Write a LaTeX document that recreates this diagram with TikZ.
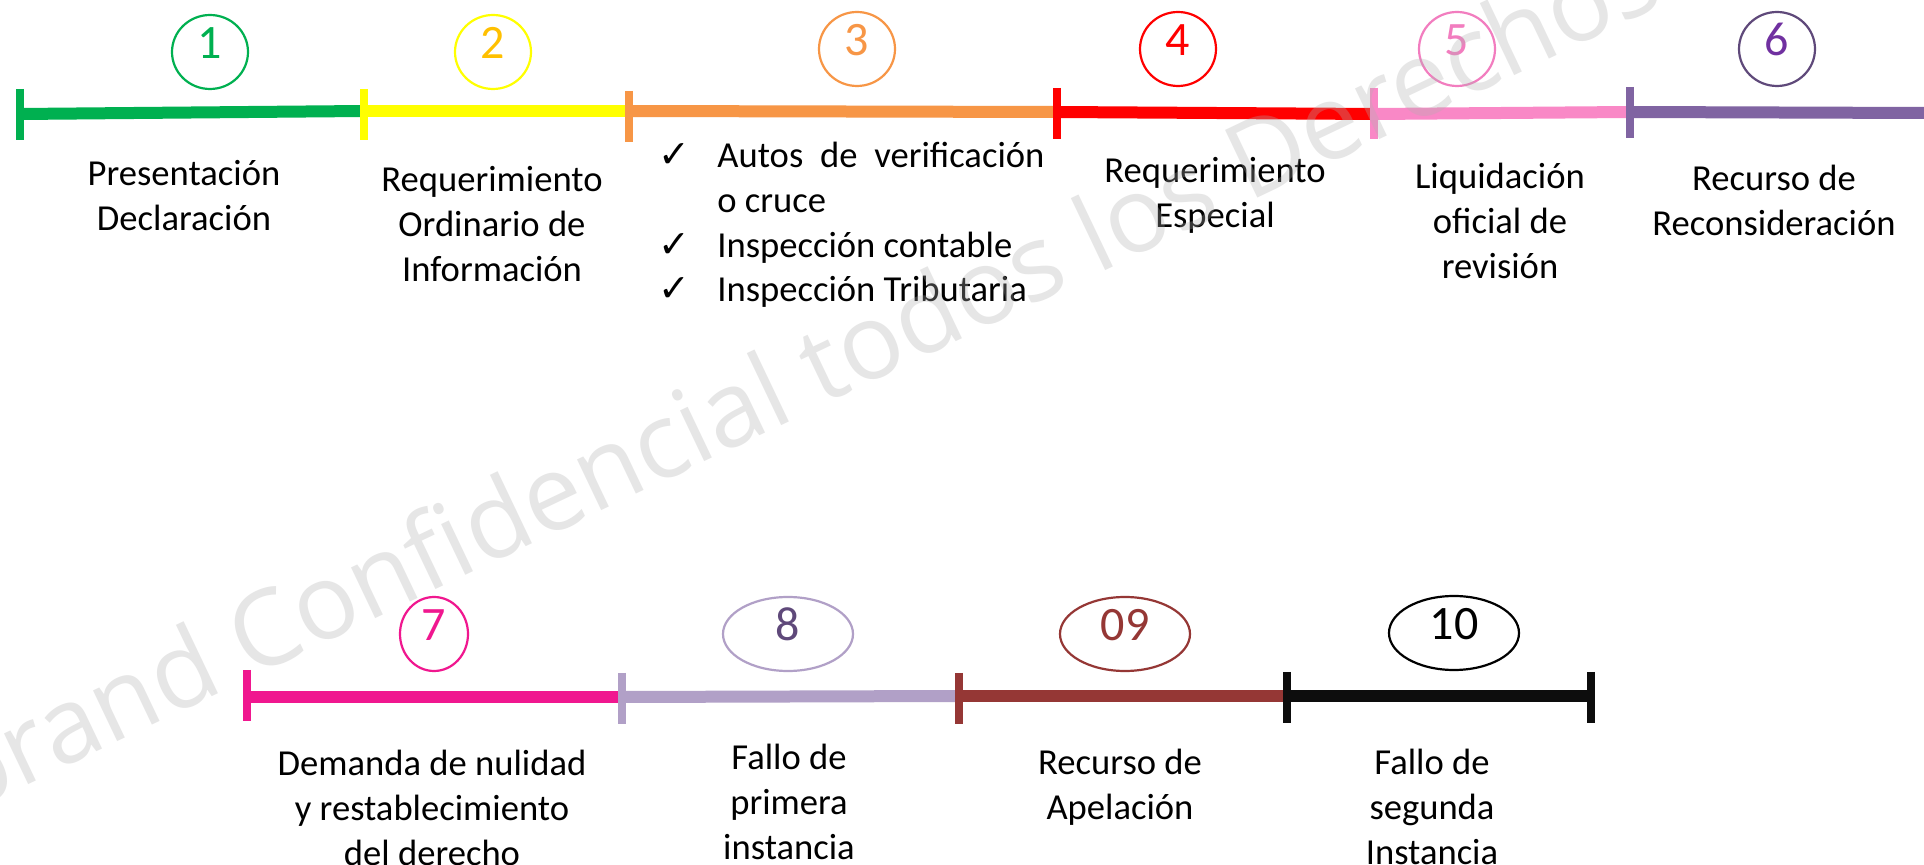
\documentclass[tikz,border=0pt]{standalone}
\usepackage{fontspec}
\usetikzlibrary{shapes.geometric}
\setmainfont{Carlito}
\newfontfamily\wmfont{Open Sans}
\newfontfamily\symfont{DejaVu Sans}
\definecolor{cgreen}{HTML}{00B050}
\definecolor{cyellow}{HTML}{FFFF00}
\definecolor{cgold}{HTML}{FFC000}
\definecolor{corange}{HTML}{F79646}
\definecolor{cred}{HTML}{FF0000}
\definecolor{cpink}{HTML}{F988C6}
\definecolor{cpinkd}{HTML}{F27DBF}
\definecolor{cpurple}{HTML}{8064A2}
\definecolor{cpurpled}{HTML}{5F497A}
\definecolor{cviolet}{HTML}{7030A0}
\definecolor{cmagenta}{HTML}{F0178F}
\definecolor{clav}{HTML}{B1A0C7}
\definecolor{cbrown}{HTML}{953735}
\definecolor{cblack}{HTML}{0D0D0D}
\definecolor{wmgray}{RGB}{175,175,175}
\newcommand{\mlc}[1]{\begin{tabular}[t]{@{}c@{}}#1\end{tabular}}
\newcommand{\chk}{{\symfont\bfseries\fontsize{19}{19}\selectfont ✓}}
\begin{document}
\begin{tikzpicture}[x=0.5pt,y=-0.5pt,
  seg/.style={line width=6pt},
  tick/.style={line width=3.75pt},
  circ/.style={ellipse, draw, line width=1.1pt, inner sep=0pt, minimum height=37pt,
    font=\fontsize{24}{24}\selectfont, text height=0.63em, text depth=0pt},
  lbl/.style={font=\fontsize{18.3}{22.3}\selectfont, anchor=base, inner sep=0pt},
  wm/.style={font=\wmfont\fontsize{52.5}{60}\selectfont, text=wmgray, text opacity=0.31, inner sep=0pt}
]
\useasboundingbox (0,0) rectangle (1924,865);
\fill[white] (0,0) rectangle (1924,865);
\clip (0,0) rectangle (1924,865);

% top timeline coordinates
\coordinate (t1) at (20,114);
\coordinate (t2) at (364,111);
\coordinate (t3) at (629,111);
\coordinate (t4) at (1057,112);
\coordinate (t5) at (1374,114);
\coordinate (t6) at (1630,112);
\coordinate (tend) at (1924,113);
% bottom timeline coordinates
\coordinate (b1) at (247,697);
\coordinate (b2) at (622,697);
\coordinate (b3) at (959,696);
\coordinate (b4) at (1287,696);
\coordinate (b5) at (1591,696);

% segments
\draw[seg, cgreen] (t1) -- (t2);
\draw[seg, cyellow] (t2) -- (t3);
\draw[seg, corange] (t3) -- (t4);
\draw[seg, cred] (t4) -- (t5);
\draw[seg, cpink] (t5) -- (t6);
\draw[seg, cpurple] (t6) -- (tend);
\draw[seg, cmagenta] (b1) -- (b2);
\draw[seg, clav] (b2) -- (b3);
\draw[seg, cbrown] (b3) -- (b4);
\draw[seg, cblack] (b4) -- (b5);

% ticks
\draw[tick, cgreen] (t1) ++(0,-25) -- ++(0,51);
\draw[tick, cyellow] (t2) ++(0,-22) -- ++(0,51);
\draw[tick, corange] (t3) ++(0,-20) -- ++(0,51);
\draw[tick, cred] (t4) ++(0,-24) -- ++(0,51);
\draw[tick, cpink] (t5) ++(0,-26) -- ++(0,51);
\draw[tick, cpurple] (t6) ++(0,-25) -- ++(0,51);
\draw[tick, cmagenta] (b1) ++(0,-27) -- ++(0,51);
\draw[tick, clav] (b2) ++(0,-24) -- ++(0,51);
\draw[tick, cbrown] (b3) ++(0,-23) -- ++(0,51);
\draw[tick, cblack] (b4) ++(0,-24) -- ++(0,51);
\draw[tick, cblack] (b5) ++(0,-24) -- ++(0,51);

% numbered circles
\node[circ, draw=cgreen, text=cgreen, minimum width=38pt] (c1) at (210,52) {1};
\node[circ, draw=cyellow, text=cgold, minimum width=38pt] (c2) at (493,52) {2};
\node[circ, draw=corange, text=corange, minimum width=38pt] (c3) at (857,49) {3};
\node[circ, draw=cred, text=cred, minimum width=38pt] (c4) at (1178,49) {4};
\node[circ, draw=cpinkd, text=cpinkd, minimum width=38pt] (c5) at (1457,49) {5};
\node[circ, draw=cpurpled, text=cviolet, minimum width=38pt] (c6) at (1777,49) {6};
\node[circ, draw=cmagenta, text=cmagenta, minimum width=34pt] (c7) at (434,634) {7};
\node[circ, draw=clav, text=cpurpled, minimum width=65pt] (c8) at (788,634) {8};
\node[circ, draw=cbrown, text=cbrown, minimum width=65pt] (c9) at (1125,634) {09};
\node[circ, draw=black, text=black, minimum width=65pt] (c10) at (1454,633) {10};

% top labels
\node[lbl] (l1) at (184,186) {\mlc{Presentación\\Declaración}};
\node[lbl] (l2) at (492,192) {\mlc{Requerimiento\\Ordinario de\\Información}};
\node[lbl, anchor=base west] (l3) at (658,168) {\begin{tabular}[t]{@{}p{29.5pt}@{}l@{}}
\chk & \makebox[163.5pt][s]{Autos de verificación}\\
 & o cruce\\
\chk & Inspección contable\\
\chk & Inspección Tributaria
\end{tabular}};
\node[lbl] (l4) at (1215,183) {\mlc{Requerimiento\\Especial}};
\node[lbl] (l5) at (1500,189) {\mlc{Liquidación\\oficial de\\revisión}};
\node[lbl] (l6) at (1774,191) {\mlc{Recurso de\\Reconsideración}};

% bottom labels
\node[lbl] (l7) at (432,776) {\mlc{Demanda de nulidad\\y restablecimiento\\del derecho}};
\node[lbl] (l8) at (789,770) {\mlc{Fallo de\\primera\\instancia}};
\node[lbl] (l9) at (1120,775) {\mlc{Recurso de\\Apelación}};
\node[lbl] (l10) at (1432,775) {\mlc{Fallo de\\segunda\\Instancia}};

% watermark
\node[wm, rotate=25.5, anchor=base west] (wmk) at (-38,816) {brand Confidencial todos los Derechos R};
\end{tikzpicture}
\end{document}
